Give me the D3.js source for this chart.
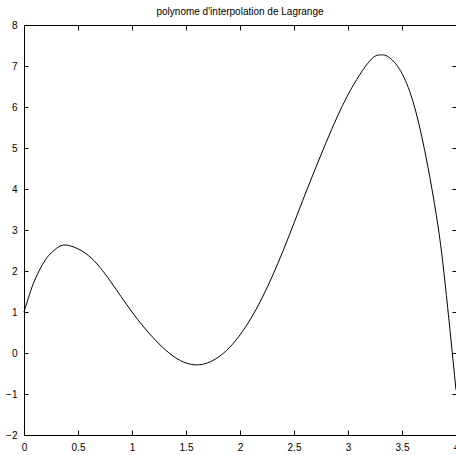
<!DOCTYPE html>
<html>
<head>
	<meta charset="utf-8">
	<title>Lagrange</title>
	<script src="https://cdn.jsdelivr.net/npm/d3@7"></script>
	<style>
		body { margin: 0; background: #fff; }
		svg { display: block; font-family: "Liberation Sans", Arial, sans-serif; }
	</style>
</head>
<body>
	<script>
		// data
		var xs = [0, 0.05, 0.1, 0.2, 0.3, 0.4, 0.6, 0.8, 1.0, 1.2, 1.4, 1.6, 1.8, 2.0, 2.2, 2.4, 2.6, 2.8, 3.0,
			3.2, 3.3, 3.4, 3.6, 3.8, 3.9, 4.0];
		var ys = [1.0, 1.42, 1.78, 2.28, 2.55, 2.63, 2.37, 1.75, 1.0, 0.36, -0.11, -0.29, -0.1, 0.44, 1.32, 2.5, 3.85, 5.15, 6.3,
			7.12, 7.27, 7.17, 6.15, 3.65, 1.68, -0.9];
		var xTicks = [0, 0.5, 1, 1.5, 2, 2.5, 3, 3.5, 4];
		var yTicks = [-2, -1, 0, 1, 2, 3, 4, 5, 6, 7, 8];
		var title = "polynome d'interpolation de Lagrange";

		var width = 456, height = 455;
		var pLeft = 24, pRight = 456, pTop = 25, pBottom = 435;

		var svg = d3.select("body").append("svg")
			.attr("width", width)
			.attr("height", height);

		var x = d3.scaleLinear().domain([0, 4]).range([pLeft, pRight]);
		var y = d3.scaleLinear().domain([-2, 8]).range([pBottom, pTop]);
		var fmt = d3.format("");

		// box
		svg.append("rect")
			.attr("x", pLeft + 0.5).attr("y", pTop + 0.5)
			.attr("width", pRight - pLeft).attr("height", pBottom - pTop)
			.attr("fill", "none").attr("stroke", "#000").attr("stroke-width", 1);

		// axes, ticks pointing inward like matlab
		function styleAxis(g, hideText) {
			g.select(".domain").remove();
			g.selectAll("line").attr("stroke", "#000");
			g.selectAll("text").attr("fill", "#000").style("font-size", "10px");
			if (hideText) g.selectAll("text").remove();
		}

		svg.append("g")
			.attr("transform", "translate(0," + (pBottom + 0.5) + ")")
			.call(d3.axisBottom(x).tickValues(xTicks).tickFormat(fmt).tickSizeInner(-5).tickPadding(8))
			.call(styleAxis, false);
		svg.append("g")
			.attr("transform", "translate(0," + (pTop + 0.5) + ")")
			.call(d3.axisTop(x).tickValues(xTicks).tickSizeInner(-5))
			.call(styleAxis, true);
		svg.append("g")
			.attr("transform", "translate(" + (pLeft + 0.5) + ",0)")
			.call(d3.axisLeft(y).tickValues(yTicks).tickFormat(fmt).tickSizeInner(-4).tickPadding(7))
			.call(styleAxis, false);
		svg.append("g")
			.attr("transform", "translate(" + (pRight + 0.5) + ",0)")
			.call(d3.axisRight(y).tickValues(yTicks).tickSizeInner(-4))
			.call(styleAxis, true);

		// curve
		var pts = xs.map(function(v, i) { return [v, ys[i]]; });
		var line = d3.line()
			.x(function(d) { return x(d[0]); })
			.y(function(d) { return y(d[1]); })
			.curve(d3.curveNatural);
		svg.append("path")
			.datum(pts)
			.attr("d", line)
			.attr("fill", "none")
			.attr("stroke", "#000")
			.attr("stroke-width", 1);

		svg.append("text")
			.attr("x", (pLeft + pRight) / 2)
			.attr("y", 15)
			.attr("text-anchor", "middle")
			.style("font-size", "10px")
			.text(title);
	</script>
</body>
</html>
